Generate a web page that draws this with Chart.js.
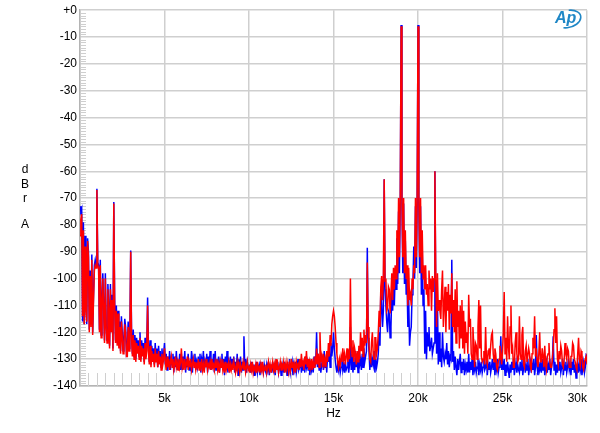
<!DOCTYPE html>
<html>
<head>
<meta charset="utf-8">
<script src="https://cdn.jsdelivr.net/npm/chart.js@4.4.1/dist/chart.umd.min.js"></script>
<style>
  html, body { margin: 0; padding: 0; background: #fff; }
  #myChart { display: block; }
</style>
</head>
<body>
<canvas id="myChart" width="600" height="433"></canvas>
<script>
// spectrum, one value every 50 Hz from 0 to 30 kHz
// (one line = 1 kHz)
const stepHz = 50;

const redDb = [
  -84, -78, -76, -114, -82, -117, -88, -112, -116, -86, -92, -120, -99, -118, -93, -121, -108, -97, -95, -96,
  -67, -95, -96, -120, -95, -122, -110, -100, -112, -124, -100, -118, -124, -104, -112, -126, -104, -120, -108, -127,
  -72, -110, -124, -112, -125, -113, -126, -118, -128, -116, -122, -128, -124, -117, -120, -129, -129, -118, -127, -124,
  -90, -122, -129, -121, -130, -123, -131, -124, -128, -125, -130, -122, -131, -125, -129, -126, -132, -124, -130, -127,
  -110, -127, -132, -125, -133, -127, -131, -128, -133, -126, -131, -128, -133, -127, -132, -129, -134, -128, -132, -130,
  -126, -131, -134, -129, -133, -130, -134, -131, -129, -133, -130, -134, -132, -129, -133, -131, -134, -130, -133, -131,
  -126, -133, -131, -134, -130, -133, -132, -129, -134, -131, -133, -130, -134, -132, -130, -133, -131, -134, -132, -133,
  -130, -134, -131, -133, -130, -134, -132, -135, -131, -133, -130, -134, -132, -133, -131, -134, -130, -133, -132, -134,
  -131, -133, -130, -134, -132, -135, -131, -133, -130, -134, -132, -135, -131, -134, -132, -133, -131, -135, -132, -134,
  -132, -134, -131, -133, -135, -132, -134, -131, -133, -135, -132, -134, -133, -131, -134, -132, -135, -133, -131, -134,
  -133, -135, -132, -134, -131, -135, -133, -134, -132, -135, -131, -134, -133, -135, -132, -134, -131, -135, -133, -134,
  -132, -135, -133, -131, -134, -132, -135, -133, -131, -134, -132, -135, -130, -134, -132, -135, -133, -131, -134, -132,
  -133, -131, -135, -132, -134, -131, -133, -135, -132, -134, -130, -133, -131, -134, -132, -135, -131, -133, -132, -134,
  -130, -133, -128, -132, -131, -134, -129, -132, -127, -133, -130, -134, -131, -133, -130, -134, -131, -133, -129, -132,
  -126, -132, -128, -133, -120, -131, -129, -133, -128, -132, -130, -133, -127, -131, -124, -129, -121, -125, -117, -114,
  -112, -114, -118, -124, -128, -131, -133, -130, -132, -129, -131, -126, -130, -128, -132, -129, -126, -131, -128, -130,
  -100, -125, -129, -123, -131, -126, -128, -132, -127, -131, -125, -130, -120, -127, -122, -129, -119, -125, -121, -124,
  -94, -118, -125, -130, -131, -124, -120, -128, -130, -122, -122, -128, -126, -120, -112, -118, -103, -99, -108, -100,
  -63, -101, -100, -112, -111, -103, -104, -113, -113, -98, -108, -96, -104, -95, -100, -82, -98, -70, -92, -70,
  -6, -70, -92, -70, -98, -82, -100, -95, -110, -96, -108, -106, -110, -100, -104, -95, -98, -70, -92, -70,
  -6, -70, -92, -70, -98, -82, -100, -95, -104, -95, -106, -102, -110, -97, -104, -100, -112, -99, -105, -100,
  -60, -100, -118, -98, -112, -108, -112, -115, -104, -97, -118, -110, -103, -120, -105, -112, -102, -119, -106, -113,
  -98, -118, -108, -120, -104, -124, -101, -118, -112, -126, -110, -122, -108, -126, -112, -128, -116, -124, -120, -128,
  -106, -118, -115, -128, -130, -118, -125, -133, -124, -125, -130, -118, -108, -126, -110, -129, -131, -130, -127, -132,
  -118, -130, -132, -127, -126, -130, -125, -121, -120, -128, -131, -126, -128, -133, -134, -131, -130, -125, -128, -132,
  -127, -120, -105, -128, -122, -131, -114, -125, -130, -118, -110, -128, -126, -133, -133, -124, -120, -128, -131, -130,
  -114, -128, -130, -121, -118, -132, -133, -127, -125, -131, -131, -126, -128, -133, -134, -128, -122, -126, -114, -129,
  -126, -131, -133, -128, -120, -131, -131, -126, -129, -133, -125, -132, -134, -129, -128, -124, -131, -133, -133, -130,
  -126, -119, -111, -124, -114, -130, -132, -127, -130, -125, -127, -132, -133, -130, -124, -128, -130, -126, -127, -133,
  -133, -129, -129, -124, -125, -130, -131, -133, -134, -128, -122, -130, -132, -127, -128, -133, -134, -131, -130, -129,
  -132
];

const blueDb = [
  -73, -75, -74, -116, -79, -117, -84, -110, -117, -85, -90, -119, -97, -117, -91, -120, -106, -95, -93, -95,
  -66.5, -94, -95, -119, -93, -121, -108, -98, -111, -123, -98, -117, -123, -102, -110, -125, -102, -119, -106, -126,
  -71.5, -108, -123, -110, -124, -112, -125, -116, -127, -114, -120, -127, -122, -115, -118, -128, -127, -116, -126, -122,
  -89.5, -120, -128, -119, -129, -121, -130, -122, -127, -123, -129, -120, -130, -123, -128, -124, -131, -122, -129, -125,
  -107, -125, -131, -123, -132, -125, -130, -126, -132, -124, -130, -126, -133, -125, -131, -127, -133, -126, -131, -128,
  -124, -132, -128, -134, -129, -133, -127, -134, -130, -132, -128, -135, -129, -133, -127, -134, -131, -132, -128, -134,
  -128, -134, -129, -132, -127, -135, -130, -133, -128, -134, -131, -133, -127, -135, -130, -132, -128, -134, -131, -133,
  -129, -133, -128, -135, -130, -132, -127, -134, -131, -133, -128, -135, -129, -132, -127, -134, -130, -133, -128, -135,
  -127, -134, -130, -132, -129, -135, -131, -133, -128, -134, -130, -136, -129, -133, -127, -135, -131, -133, -129, -134,
  -130, -133, -129, -135, -131, -134, -128, -136, -130, -133, -129, -135, -131, -134, -121.5, -133, -130, -135, -131, -133,
  -134, -132, -135, -131, -134, -133, -136, -132, -134, -131, -135, -133, -132, -136, -131, -134, -133, -135, -132, -134,
  -135, -132, -134, -131, -136, -133, -132, -135, -131, -134, -133, -136, -132, -134, -131, -135, -133, -132, -136, -134,
  -132, -135, -131, -134, -133, -136, -132, -134, -130, -135, -133, -131, -136, -132, -134, -131, -135, -133, -130, -134,
  -133, -130, -135, -132, -134, -131, -135, -129, -133, -131, -134, -130, -136, -132, -134, -131, -135, -129, -133, -131,
  -120, -133, -128, -134, -131, -135, -132, -130, -134, -127, -133, -130, -135, -128, -131, -127, -133, -124, -129, -126,
  -120, -126, -130, -133, -135, -132, -134, -131, -135, -133, -130, -134, -132, -135, -131, -134, -133, -130, -135, -132,
  -118, -134, -128, -135, -131, -134, -127, -133, -129, -135, -126, -132, -130, -134, -128, -133, -126, -131, -129, -127,
  -88.5, -122, -127, -134, -128, -133, -130, -132, -127, -135, -130, -133, -131, -128, -120, -125, -104, -110, -118, -112,
  -63, -104, -110, -116, -120, -112, -113, -122, -118, -105, -112, -100, -110, -98, -104, -85, -102, -75, -98, -72,
  -5.5, -72, -98, -72, -102, -86, -106, -100, -118, -108, -125, -120, -118, -106, -102, -88, -100, -73, -96, -72,
  -5.5, -72, -98, -73, -106, -88, -110, -104, -128, -112, -130, -120, -125, -118, -127, -125, -122, -128, -126, -124,
  -60, -105, -128, -108, -132, -120, -131, -126, -133, -120, -129, -131, -128, -130, -124, -132, -127, -133, -129, -130,
  -93, -131, -127, -134, -129, -133, -136, -130, -134, -131, -128, -135, -131, -134, -130, -136, -132, -134, -131, -135,
  -128, -135, -131, -134, -130, -136, -132, -134, -131, -135, -133, -130, -136, -132, -134, -131, -135, -133, -130, -134,
  -133, -130, -136, -132, -134, -131, -135, -133, -130, -134, -131, -136, -132, -134, -130, -135, -133, -131, -121.5, -134,
  -131, -134, -130, -136, -132, -135, -131, -134, -137, -132, -135, -131, -134, -130, -136, -133, -131, -135, -132, -134,
  -135, -131, -134, -130, -136, -133, -131, -135, -132, -134, -130, -136, -133, -131, -135, -132, -134, -130, -136, -133,
  -121, -133, -136, -131, -134, -132, -135, -130, -134, -131, -136, -133, -131, -135, -132, -134, -130, -136, -133, -131,
  -121.5, -134, -131, -136, -132, -135, -130, -134, -131, -135, -133, -130, -136, -132, -134, -131, -135, -133, -130, -134,
  -132, -136, -131, -134, -130, -135, -132, -137, -133, -131, -135, -132, -134, -130, -136, -133, -131, -135, -133, -128.5,
  -129
];

const xTickValues = [0, 5000, 10000, 15000, 20000, 25000, 30000];
const xTickLabels = ["", "5k", "10k", "15k", "20k", "25k", "30k"];
const yTickValues = [0, -10, -20, -30, -40, -50, -60, -70, -80, -90, -100, -110, -120, -130, -140];
const yTickLabels = ["+0", "-10", "-20", "-30", "-40", "-50", "-60", "-70", "-80", "-90", "-100", "-110", "-120", "-130", "-140"];

const toPoints = (arr) => arr.map((v, i) => ({ x: i * stepHz, y: v }));

Chart.defaults.font.family = "'Liberation Sans', Arial, sans-serif";
Chart.defaults.font.size = 12;
Chart.defaults.color = "#000";

const gridColor = "#cfcfcf";

// small ticks inside the plot: 1 dB on the left, 500 Hz along the bottom
const minorTicks = {
  id: "minorTicks",
  beforeDatasetsDraw(chart) {
    const { ctx, chartArea: a, scales } = chart;
    ctx.save();
    ctx.strokeStyle = gridColor;
    ctx.lineWidth = 1;
    ctx.beginPath();
    for (let v = -139; v < 0; v++) {
      if (v % 10 === 0) continue;
      const py = Math.round(scales.y.getPixelForValue(v)) + 0.5;
      ctx.moveTo(a.left, py);
      ctx.lineTo(a.left + 6, py);
    }
    for (let f = 500; f < 30000; f += 500) {
      if (f % 5000 === 0) continue;
      const px = Math.round(scales.x.getPixelForValue(f)) + 0.5;
      ctx.moveTo(px, a.bottom);
      ctx.lineTo(px, a.bottom - 13);
    }
    ctx.stroke();
    ctx.restore();
  },
};

// axis titles and the AP logo
const extras = {
  id: "extras",
  afterDraw(chart) {
    const { ctx, chartArea: a } = chart;
    ctx.save();
    ctx.fillStyle = "#000";
    ctx.font = "12px 'Liberation Sans', Arial, sans-serif";
    ctx.textAlign = "center";
    ctx.textBaseline = "middle";
    ctx.fillText("Hz", (a.left + a.right) / 2, 414);
    ["d", "B", "r"].forEach((ch, i) => ctx.fillText(ch, 25, 170 + i * 14.5));
    ctx.fillText("A", 25, 225);

    // logo
    ctx.fillStyle = "#1f87c6";
    ctx.strokeStyle = "#1f87c6";
    ctx.font = "italic bold 16px 'Liberation Sans', Arial, sans-serif";
    ctx.textAlign = "left";
    ctx.fillText("Ap", 555, 19);
    ctx.lineWidth = 1.6;
    ctx.beginPath();
    ctx.ellipse(568, 19, 13, 8.5, -0.25, -1.35, 2.1);
    ctx.stroke();
    ctx.restore();
  },
};

// lower order is painted last, so red sits on top of blue
const ctx = document.getElementById("myChart").getContext("2d");
const myChart = new Chart(ctx, {
  type: "line",
  data: {
    datasets: [
      {
        label: "red",
        data: toPoints(redDb),
        borderColor: "#ff0000",
        borderWidth: 1.5,
        pointRadius: 0,
        tension: 0,
        order: 0,
      },
      {
        label: "blue",
        data: toPoints(blueDb),
        borderColor: "#0000ff",
        borderWidth: 1.5,
        pointRadius: 0,
        tension: 0,
        order: 1,
      },
    ],
  },
  options: {
    responsive: false,
    animation: false,
    devicePixelRatio: 1,
    layout: { padding: { top: 9, right: 13, left: 0, bottom: 0 } },
    plugins: { legend: { display: false }, tooltip: { enabled: false } },
    scales: {
      x: {
        type: "linear",
        min: 0,
        max: 30000,
        afterFit(scale) {
          scale.height = 47;
        },
        afterBuildTicks(scale) {
          scale.ticks = xTickValues.map((v) => ({ value: v }));
        },
        ticks: {
          autoSkip: false,
          maxRotation: 0,
          padding: 5,
          align: "inner",
          callback: (v, i) => xTickLabels[i],
        },
        grid: { color: gridColor, lineWidth: 1.5, drawTicks: false },
        border: { color: "#b4b4b4", width: 1.5 },
      },
      y: {
        min: -140,
        max: 0,
        afterFit(scale) {
          scale.width = 80;
        },
        afterBuildTicks(scale) {
          scale.ticks = yTickValues.map((v) => ({ value: v }));
        },
        ticks: {
          autoSkip: false,
          padding: 3,
          callback: (v, i) => yTickLabels[i],
        },
        grid: { color: gridColor, lineWidth: 1.5, drawTicks: false },
        border: { color: "#b4b4b4", width: 1.5 },
      },
    },
  },
  plugins: [minorTicks, extras],
});
</script>
</body>
</html>
